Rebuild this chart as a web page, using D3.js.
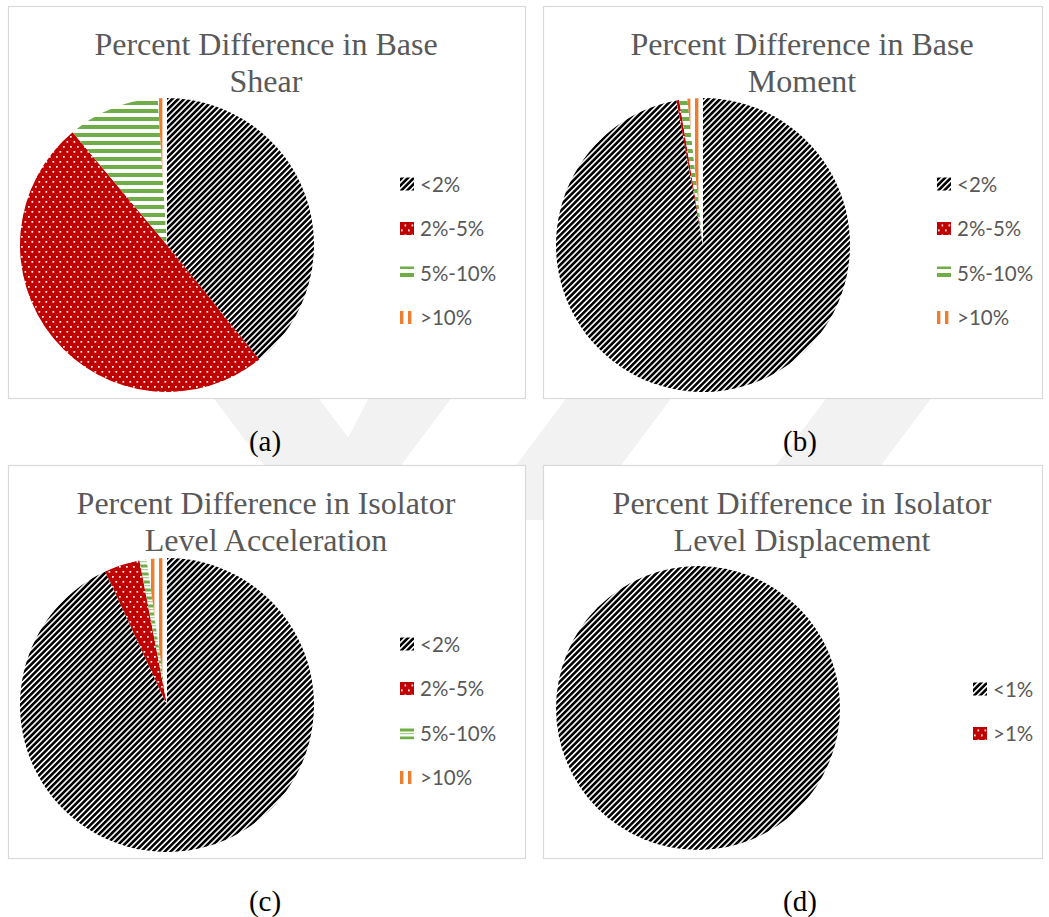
<!DOCTYPE html>
<html>
<head>
<meta charset="utf-8">
<script src="https://cdn.jsdelivr.net/npm/d3@7"></script>
<style>
  body { margin: 0; background: #fff; }
  svg { display: block; }
</style>
</head>
<body>
<svg id="fig"></svg>
<script>
const W = 1049, H = 917;

// --- DATA ---
const rangeCats = ["<2%", "2%-5%", "5%-10%", ">10%"];
const shearPct  = [39.2, 49.7, 10.1, 1.0];
const momentPct = [97.1, 0.3, 0.9, 1.7];
const accelPct  = [93.1, 3.9, 0.8, 2.2];
const dispCats  = ["<1%", ">1%"];
const dispPct   = [100, 0];
const panelLetters = ["(a)", "(b)", "(c)", "(d)"];
const panelTitles = [
  ["Percent Difference in Base", "Shear"],
  ["Percent Difference in Base", "Moment"],
  ["Percent Difference in Isolator", "Level Acceleration"],
  ["Percent Difference in Isolator", "Level Displacement"]
];

// --- LAYOUT ---
const panels = [
  { x: 8,   y: 6,   w: 517, h: 392, tx: 266, cx: 167, cy: 245, r: 147, legX: 400, legY: 184, cats: rangeCats, vals: shearPct,  fills: ["hatch", "dots", "hstripe", "vstripe"] },
  { x: 543, y: 6,   w: 499, h: 392, tx: 802, cx: 703, cy: 245, r: 147, legX: 937, legY: 184, cats: rangeCats, vals: momentPct, fills: ["hatch", "dots", "hstripe", "vstripe"] },
  { x: 8,   y: 465, w: 517, h: 393, tx: 266, cx: 167, cy: 705, r: 147, legX: 400, legY: 644, cats: rangeCats, vals: accelPct,  fills: ["hatch", "dots", "hstripe2", "vstripe"] },
  { x: 543, y: 465, w: 499, h: 393, tx: 802, cx: 698, cy: 708, r: 142, legX: 973, legY: 689, cats: dispCats,  vals: dispPct,   fills: ["hatch", "dots"] }
];
const letterPos = [[265, 451], [800, 451], [265, 911], [800, 911]];

const svg = d3.select("#fig").attr("width", W).attr("height", H);
const defs = svg.append("defs");

// --- PATTERNS ---
const pHatch = defs.append("pattern").attr("id", "hatch").attr("patternUnits", "userSpaceOnUse")
  .attr("width", 4.2).attr("height", 4.2).attr("patternTransform", "rotate(45)");
pHatch.append("rect").attr("width", 4.2).attr("height", 4.2).attr("fill", "#fff");
pHatch.append("rect").attr("width", 2.6).attr("height", 4.2).attr("fill", "#000");

const pDots = defs.append("pattern").attr("id", "dots").attr("patternUnits", "userSpaceOnUse")
  .attr("width", 7).attr("height", 10);
pDots.append("rect").attr("width", 7).attr("height", 10).attr("fill", "#C00000");
pDots.append("rect").attr("x", 1).attr("y", 1).attr("width", 1.7).attr("height", 1.7).attr("fill", "#fff");
pDots.append("rect").attr("x", 4.5).attr("y", 6).attr("width", 1.7).attr("height", 1.7).attr("fill", "#fff");

const pH = defs.append("pattern").attr("id", "hstripe").attr("patternUnits", "userSpaceOnUse")
  .attr("width", 8).attr("height", 8);
pH.append("rect").attr("width", 8).attr("height", 8).attr("fill", "#fff");
pH.append("rect").attr("width", 8).attr("height", 4).attr("fill", "#70AD47");

const pH2 = defs.append("pattern").attr("id", "hstripe2").attr("patternUnits", "userSpaceOnUse")
  .attr("width", 8).attr("height", 8);
pH2.append("rect").attr("width", 8).attr("height", 8).attr("fill", "#fff");
pH2.append("rect").attr("y", 0).attr("width", 8).attr("height", 1.2).attr("fill", "#A9D18E");
pH2.append("rect").attr("y", 3.5).attr("width", 8).attr("height", 3).attr("fill", "#70AD47");

const pV = defs.append("pattern").attr("id", "vstripe").attr("patternUnits", "userSpaceOnUse")
  .attr("width", 8).attr("height", 8);
pV.append("rect").attr("width", 8).attr("height", 8).attr("fill", "#fff");
pV.append("rect").attr("width", 3.4).attr("height", 8).attr("fill", "#ED7D31");

// --- WATERMARK (faint, only shows in the gaps) ---
const wm = svg.append("g").attr("fill", "#f2f2f2");
const wmShapes = [
  [[140, 300], [245, 300], [410, 520], [305, 520]],
  [[420, 300], [525, 300], [360, 520], [305, 520]],
  [[640, 300], [745, 300], [580, 520], [475, 520]],
  [[900, 300], [1005, 300], [840, 520], [735, 520]]
];
wm.selectAll("polygon").data(wmShapes).join("polygon")
  .attr("points", d => d.map(p => p.join(",")).join(" "));

// --- PANELS ---
const arc = d3.arc().innerRadius(0);
const pie = d3.pie().sort(null).value(d => d).startAngle(0).endAngle(2 * Math.PI);

panels.forEach((p, i) => {
  const g = svg.append("g");
  g.append("rect")
    .attr("x", p.x + 0.5).attr("y", p.y + 0.5).attr("width", p.w).attr("height", p.h)
    .attr("fill", "#fff").attr("stroke", "#D9D9D9").attr("stroke-width", 1.2);

  // title
  const t = g.append("text")
    .attr("text-anchor", "middle")
    .attr("font-family", "'Liberation Serif', 'Times New Roman', serif")
    .attr("font-size", 32).attr("fill", "#595959");
  panelTitles[i].forEach((line, k) => {
    t.append("tspan").attr("x", p.tx).attr("y", p.y + 49 + k * 37).text(line);
  });

  // pie
  const slices = pie(p.vals);
  g.append("g").attr("transform", `translate(${p.cx},${p.cy})`)
    .selectAll("path").data(slices).join("path")
    .attr("d", d => arc.outerRadius(p.r)(d))
    .attr("fill", (d, j) => `url(#${p.fills[j]})`);

  // legend
  const leg = g.append("g");
  const rowStep = 44.5;
  const rows = leg.selectAll("g").data(p.cats).join("g")
    .attr("transform", (d, j) => `translate(${p.legX},${p.legY + j * rowStep})`);
  rows.append("rect")
    .attr("x", 0).attr("y", -6.5).attr("width", 14).attr("height", 13)
    .attr("fill", (d, j) => `url(#${p.fills[j]})`);
  rows.append("text")
    .attr("x", 20).attr("y", 7.5)
    .attr("font-family", "Lato, 'Open Sans', sans-serif")
    .attr("font-size", 20.5).attr("fill", "#595959")
    .text(d => d);

  // sub-figure letter
  svg.append("text")
    .attr("x", letterPos[i][0]).attr("y", letterPos[i][1])
    .attr("text-anchor", "middle")
    .attr("font-family", "'Liberation Serif', 'Times New Roman', serif")
    .attr("font-size", 29).attr("fill", "#000")
    .text(panelLetters[i]);
});
</script>
</body>
</html>
